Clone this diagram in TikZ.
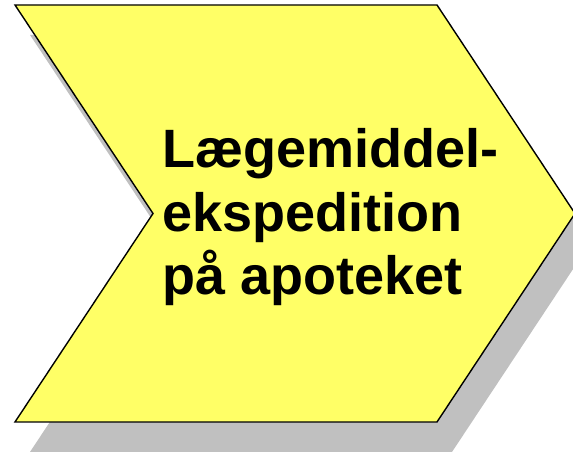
\documentclass[tikz,border=0pt]{standalone}
\usepackage{fontspec}
\setmainfont{Liberation Sans}
\definecolor{chevyellow}{HTML}{FFFF66}
\definecolor{chevshadow}{HTML}{C0C0C0}

\begin{document}
\begin{tikzpicture}[x=0.5pt,y=0.5pt]
\useasboundingbox (0,0) rectangle (573,458);
\def\shadoW{15,-30}
\coordinate (tl) at (15,453);
\coordinate (tr) at (437,453);
\coordinate (tip) at (575,244.5);
\coordinate (br) at (437,36);
\coordinate (bl) at (15,36);
\coordinate (notch) at (153,244.5);
%\draw (0,0) rectangle (573,458);
\fill[chevshadow] ([shift={(\shadoW)}]tl) -- ([shift={(\shadoW)}]tr)
          -- ([shift={(\shadoW)}]tip) -- ([shift={(\shadoW)}]br)
          -- ([shift={(\shadoW)}]bl) -- ([shift={(\shadoW)}]notch) -- cycle;
\path[draw=black,line width=0.7pt,fill=chevyellow,line join=miter]
          (tl) -- (tr) -- (tip) -- (br) -- (bl) -- (notch) -- cycle;
\node[anchor=base west,inner sep=0pt,align=left,
      font=\fontsize{27pt}{31.75pt}\selectfont\bfseries] (label) at (162,163)
      {Lægemiddel-\\ekspedition\\på apoteket};
\end{tikzpicture}
\end{document}
